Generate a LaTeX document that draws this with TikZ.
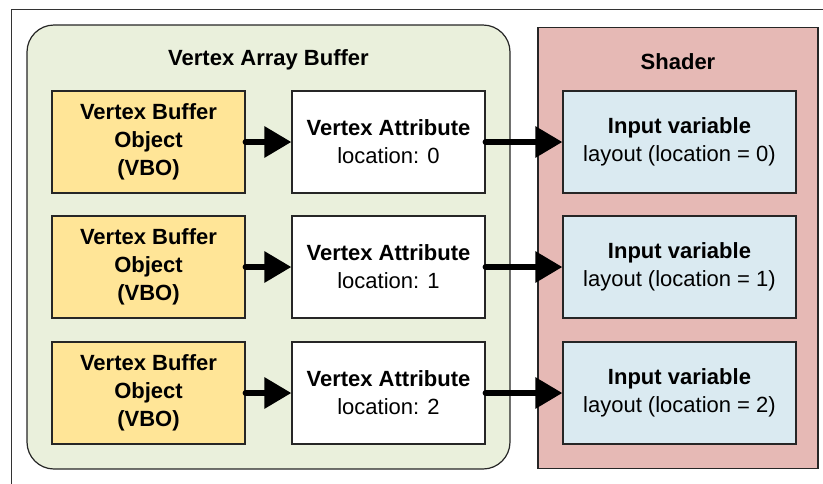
\documentclass[tikz,border=0pt]{standalone}
\usepackage{fontspec}
\setmainfont{Liberation Sans}
\usepackage{xcolor}
\usetikzlibrary{arrows.meta}

\definecolor{vabgreen}{HTML}{EAF0DC}
\definecolor{vboyellow}{HTML}{FFE597}
\definecolor{shaderpink}{HTML}{E6B9B5}
\definecolor{inputblue}{HTML}{DAEAF1}

\begin{document}
\begin{tikzpicture}[x=1pt, y=-1pt,
        box/.style={draw=black!85, line width=1.2pt, minimum width=193pt, minimum height=102pt,
                    align=center, inner sep=0pt, font=\fontsize{22}{28}\selectfont},
        vbo/.style={box, fill=vboyellow, font=\fontsize{22}{28}\selectfont\bfseries},
        attr/.style={box, fill=white},
        input/.style={box, fill=inputblue, minimum width=233pt},
        title/.style={font=\fontsize{22}{28}\selectfont\bfseries},
        feed/.style={line width=6pt, line cap=round, -{Triangle[length=27pt, width=30pt]}}]
        \useasboundingbox (0,0) rectangle (823,483);

        % Coordinates
        \coordinate (A) at (148.5, 142);
        \coordinate (B) at (388.5, 142);
        \coordinate (C) at (679.5, 142);
        \coordinate (D) at (148.5, 267);
        \coordinate (E) at (388.5, 267);
        \coordinate (F) at (679.5, 267);
        \coordinate (G) at (148.5, 393);
        \coordinate (H) at (388.5, 393);
        \coordinate (I) at (679.5, 393);
        \coordinate (J) at (268.5, 247);
        \coordinate (K) at (678, 248);

        % Frame
        \draw[black!80, line width=1pt] (11,490) -- (11,9) -- (830,9);

        % Containers
        \node[draw=black!85, line width=1.2pt, fill=vabgreen, rounded corners=27pt,
              minimum width=483pt, minimum height=444pt] (vab) at (J) {};
        \node[draw=black!85, line width=1.2pt, fill=shaderpink,
              minimum width=280pt, minimum height=441pt] (shader) at (K) {};
        \node[title] (vabtitle) at (268.5, 60) {Vertex Array Buffer};
        \node[title] (shadertitle) at (678, 62) {Shader};

        % Drawing
        \node[vbo] (vbo1) at (A) {Vertex Buffer\\Object\\(VBO)};
        \node[attr] (attr1) at (B) {\textbf{Vertex Attribute}\\location: 0};
        \node[input] (input1) at (C) {\textbf{Input variable}\\layout (location = 0)};
        \node[vbo] (vbo2) at (D) {Vertex Buffer\\Object\\(VBO)};
        \node[attr] (attr2) at (E) {\textbf{Vertex Attribute}\\location: 1};
        \node[input] (input2) at (F) {\textbf{Input variable}\\layout (location = 1)};
        \node[vbo] (vbo3) at (G) {Vertex Buffer\\Object\\(VBO)};
        \node[attr] (attr3) at (H) {\textbf{Vertex Attribute}\\location: 2};
        \node[input] (input3) at (I) {\textbf{Input variable}\\layout (location = 2)};

        \draw[feed] (vbo1) -- (attr1);
        \draw[feed] (vbo2) -- (attr2);
        \draw[feed] (vbo3) -- (attr3);
        \draw[feed] (attr1) -- (input1);
        \draw[feed] (attr2) -- (input2);
        \draw[feed] (attr3) -- (input3);
\end{tikzpicture}
\end{document}
